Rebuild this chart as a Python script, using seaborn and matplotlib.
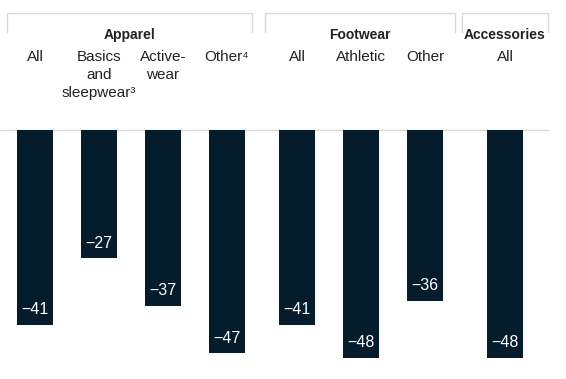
import pandas as pd
import seaborn as sns
import matplotlib.pyplot as plt

# ------------------------------
# Data
# ------------------------------
groups = ["Apparel", "Apparel", "Apparel", "Apparel",
          "Footwear", "Footwear", "Footwear", "Accessories"]
subcats = ["All", "Basics\nand\nsleepwear³", "Active-\nwear", "Other⁴",
           "All", "Athletic", "Other", "All"]
values = [-41, -27, -37, -47, -41, -48, -36, -48]

# layout (pixel-like x positions, group brackets)
x_pos = [35, 99, 163, 227, 297, 361, 425, 505]
brackets = {"Apparel": (7, 252), "Footwear": (265, 455), "Accessories": (462, 548)}

BAR = "#051c2c"
GRID = "#d9d9d9"
TEXT = "#222222"

sns.set_theme(style="white")
plt.rcParams["font.family"] = ["Liberation Sans", "DejaVu Sans"]

PX = 4.75  # pixels per unit
ZERO = 130


def ypix(p):
    return (ZERO - p) / PX


df = pd.DataFrame({"x": x_pos, "value": values, "group": groups, "sub": subcats})

fig = plt.figure(figsize=(5.66, 3.79), dpi=100)
ax = fig.add_axes([0, 0, 1, 1])

ax.axhline(0, xmin=0, xmax=548 / 566, color=GRID, lw=1, zorder=0)

sns.barplot(data=df, x="x", y="value", native_scale=True, width=36 / 64,
            color=BAR, saturation=1, edgecolor="none", ax=ax, zorder=2)

ax.set_xlim(0, 566)
ax.set_ylim(ypix(379), ypix(0))
ax.axis("off")

# value labels inside bars
for x, v in zip(x_pos, values):
    ax.text(x, v + 1.6, f"−{abs(v)}", ha="center", va="bottom",
            color="white", fontsize=11.5, zorder=3)

# sub-category labels
for x, s in zip(x_pos, subcats):
    ax.text(x, ypix(50), s, ha="center", va="top", color=TEXT,
            fontsize=11, linespacing=1.35)

# group brackets and titles
for name, (x0, x1) in brackets.items():
    ax.plot([x0, x0, x1, x1], [ypix(32), ypix(13), ypix(13), ypix(32)],
            color=GRID, lw=1, solid_joinstyle="miter")
    ax.text((x0 + x1) / 2, ypix(35), name, ha="center", va="center",
            color=TEXT, fontsize=10, fontweight="bold")

plt.savefig("out.png", dpi=100)
